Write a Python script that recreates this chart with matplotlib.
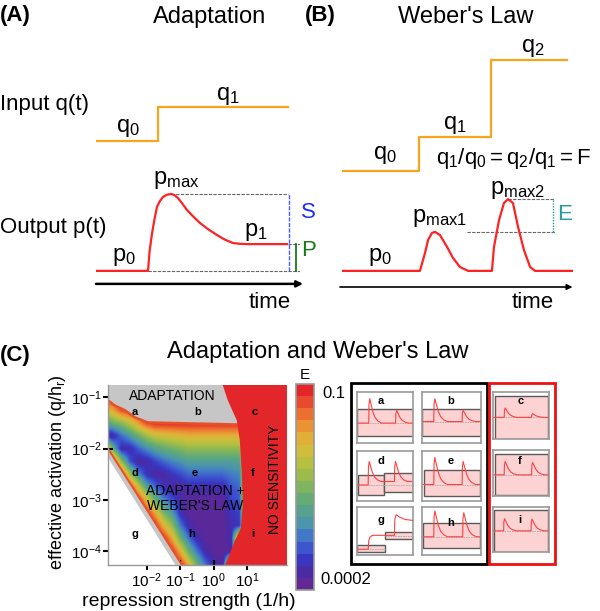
import numpy as np
import matplotlib
matplotlib.use('Agg')
import matplotlib.pyplot as plt
from matplotlib.colors import ListedColormap, LinearSegmentedColormap, Normalize
from matplotlib.patches import Polygon, Rectangle
import matplotlib.cm as cm

plt.rcParams['font.family'] = ['Liberation Sans', 'DejaVu Sans']
plt.rcParams['mathtext.fontset'] = 'custom'
plt.rcParams['mathtext.rm'] = 'Liberation Sans'
plt.rcParams['mathtext.it'] = 'Liberation Sans:italic'
plt.rcParams['mathtext.bf'] = 'Liberation Sans:bold'

# ------------------------------------------------------------------ data
# Panel A (time units, arbitrary level units)
A_in_t = [0.0, 3.04, 3.04, 9.41]
A_in_q = [6.12, 6.12, 7.42, 7.42]
A_out_t = [0.0, 2.55, 2.63, 2.75, 2.87, 2.99, 3.13, 3.28, 3.48, 3.68, 3.85, 4.02,
           4.24, 4.46, 4.78, 5.10, 5.50, 5.93, 6.32, 6.72, 7.06, 7.40, 9.36]
A_out_p = [1.12, 1.12, 1.90, 2.58, 3.12, 3.58, 3.80, 3.96, 4.05, 4.08, 4.03, 3.92,
           3.70, 3.46, 3.20, 2.96, 2.72, 2.50, 2.32, 2.19, 2.16, 2.15, 2.15]

# Panel B
B_in_t = [0.0, 3.77, 3.77, 7.30, 7.30, 11.03]
B_in_q = [4.96, 4.96, 6.27, 6.27, 9.23, 9.23]
B_out_t = [0.0, 3.82, 4.07, 4.22, 4.41, 4.56, 4.80, 5.15, 5.44, 5.78, 6.18, 7.35,
           7.45, 7.70, 7.94, 8.14, 8.38, 8.63, 8.92, 9.22, 9.46, 11.27]
B_out_p = [1.12, 1.12, 1.81, 2.31, 2.58, 2.62, 2.50, 2.04, 1.62, 1.27, 1.12, 1.12,
           2.04, 3.08, 3.73, 3.88, 3.73, 2.81, 1.92, 1.27, 1.12, 1.12]

# Panel C: log10(E) on a grid of log10(repression) x log10(activation)
grid_lx = [-3.25, -3.0, -2.75, -2.5, -2.25, -2.0, -1.75, -1.5, -1.25, -1.0,
           -0.75, -0.5, -0.25, 0.0, 0.25, 0.5, 0.75, 1.0]
grid_ly = [-0.75, -1.0, -1.25, -1.5, -1.75, -2.0, -2.25, -2.5, -2.75, -3.0,
           -3.25, -3.5, -3.75, -4.0, -4.25]
logE = [
 [-1.0]*18,
 [-1.0]*18,
 [-1.85, -1.6, -1.15] + [-1.0]*15,
 [-2.75, -2.45, -2.28, -1.96, -1.54, -1.15] + [-1.0]*12,
 [-3.65, -3.5, -3.07, -2.79, -2.47, -2.16, -1.94, -1.86, -1.81, -1.75] + [-1.7]*7 + [-1.0],
 [-1.0, -2.6, -3.5, -3.47, -3.15, -2.9, -2.7, -2.53, -2.43, -2.34] + [-2.24]*7 + [-1.0],
 [-1.0, -1.0, -2.3, -3.2, -3.58, -3.5, -3.29, -3.1, -2.96, -2.85] + [-2.73]*6 + [-2.7, -1.0],
 [-1.0]*3 + [-2.15, -2.94, -3.4, -3.55, -3.56, -3.38, -3.24] + [-3.1]*5 + [-3.0, -2.95, -1.0],
 [-1.0]*4 + [-1.9, -2.73, -3.1, -3.43, -3.55, -3.6] + [-3.48]*5 + [-3.2, -3.1, -1.0],
 [-1.0]*5 + [-1.78, -2.5, -2.96, -3.24, -3.5] + [-3.65]*5 + [-3.3, -3.2, -1.0],
 [-1.0]*6 + [-1.65, -2.39, -2.79, -3.45] + [-3.65]*5 + [-3.4, -3.3, -1.0],
 [-1.0]*7 + [-1.73, -2.24, -3.03, -3.5] + [-3.65]*4 + [-3.5, -3.35, -1.0],
 [-1.0]*8 + [-1.63, -2.47, -3.07, -3.5] + [-3.65]*3 + [-3.55, -1.0, -1.0],
 [-1.0]*9 + [-1.7, -2.53, -3.07, -3.52, -3.65, -3.65, -3.6, -1.0, -1.0],
 [-1.0]*10 + [-1.75, -2.53, -3.1, -3.52, -3.6, -1.0, -1.0, -1.0],
]
# region boundaries (log10 units)
top_lx = [-3.35, -3.16, -2.96, -2.66, -2.36, -1.97, 1.0]
top_ly = [-1.02, -1.06, -1.16, -1.25, -1.39, -1.49, -1.53]
red_lx = [0.22, 0.27, 0.42, 0.69, 0.78, 0.84, 0.87, 0.81, 0.63, 0.42, 0.33, 0.30]
red_ly = [-0.60, -0.76, -1.06, -1.45, -1.84, -2.49, -3.08, -3.55, -3.80, -4.14, -4.29, -4.45]
low_lx = [-3.30, -0.82]
low_ly = [-1.856, -4.40]
white_lx = [-3.30, -1.02]
white_ly = [-2.03, -4.40]
xticks_c = [-2, -1, 0, 1]
yticks_c = [-4, -3, -2, -1]
E_min, E_max = -3.7, -1.0
cbar_colors = ['#622896', '#4a2ba5', '#3a36c0', '#3d55cf', '#4179c8', '#4b95ad',
               '#56a28e', '#64ab76', '#7fb55e', '#9dbb4c', '#b8c03f', '#d1bc3b',
               '#e2ae38', '#eb9233', '#ec6f2f', '#e74a2c', '#e3262a']
region_letters = list('abcdefghi')
region_lx = [-2.36, -0.49, 1.22, -2.36, -0.57, 1.16, -2.36, -0.66, 1.16]
region_ly = [-1.29, -1.29, -1.29, -2.47, -2.47, -2.47, -3.67, -3.67, -3.67]

# mini panels (fractions of each small frame)
mini_base = [0.39, 0.42, 0.46, 0.32, 0.33, 0.46, 0.12, 0.38, 0.47]
mini_peak1 = [0.87, 0.87, 0.66, 0.79, 0.87, 0.75, 0.0, 0.92, 0.74]
mini_peak2 = [0.64, 0.64, 0.54, 0.79, 0.79, 0.73, 0.0, 0.88, 0.73]
mini_level = [0.39, 0.42, 0.46, 0.39, 0.33, 0.46, 0.0, 0.38, 0.47]
mini_step1 = [0.21, 0.20, 0.20, 0.20, 0.20, 0.20, 0.0, 0.20, 0.19]
mini_step2 = [0.69, 0.68, 0.69, 0.67, 0.68, 0.69, 0.0, 0.69, 0.68]
mini_bands = [[(0.0, 1.0, 0.13, 0.67)], [(0.0, 1.0, 0.13, 0.67)], [(0.03, 0.98, 0.01, 0.91)],
              [(0.02, 0.49, 0.13, 0.52), (0.49, 1.0, 0.19, 0.57)], [(0.03, 0.98, 0.11, 0.62)],
              [(0.03, 0.98, 0.02, 0.91)], [(0.0, 0.5, 0.06, 0.21), (0.5, 1.0, 0.33, 0.48)],
              [(0.02, 0.98, 0.14, 0.66)], [(0.02, 0.98, 0.01, 0.93)]]
g_t = [0.02, 0.20, 0.21, 0.235, 0.28, 0.67, 0.675, 0.70, 0.76, 0.86, 1.0]
g_v = [0.12, 0.12, 0.30, 0.38, 0.41, 0.41, 0.75, 0.84, 0.79, 0.74, 0.72]
spike_dt = [0.0, 0.004, 0.018, 0.04, 0.075, 0.115, 0.165, 0.23]
spike_fr = [0.0, 0.75, 1.0, 0.78, 0.45, 0.22, 0.08, 0.0]

# ------------------------------------------------------------------ layout
W, H = 600, 611
fig = plt.figure(figsize=(6, 6.11), dpi=100)

def box(x0, y0, x1, y1):
    return fig.add_axes([x0 / W, 1 - y1 / H, (x1 - x0) / W, (y1 - y0) / H])

def ftext(x, y, s, **kw):
    fig.text(x / W, 1 - y / H, s, **kw)

ORANGE = '#f7a51e'
RED = '#ff2222'
DASH = dict(color='#666666', lw=0.8, ls=(0, (3, 1.2)))

# ---------------- Panel A
ftext(0, 16, '(A)', fontsize=16, fontweight='bold', va='center')
ftext(210, 17, 'Adaptation', fontsize=17, ha='center', va='center')
axA = box(96, 40, 300, 300)
axA.set_xlim(0, 10); axA.set_ylim(0, 10); axA.axis('off')
axA.plot(A_in_t, A_in_q, color=ORANGE, lw=1.6, solid_joinstyle='miter')
p0, p1, pmax = A_out_p[0], A_out_p[-1], max(A_out_p)
tpk = A_out_t[int(np.argmax(A_out_p))]
axA.plot([A_out_t[1], 10.0], [p0, p0], zorder=1, **DASH)
axA.plot([tpk, 9.41], [pmax, pmax], zorder=1, **DASH)
axA.plot([9.41, 10.0], [p1, p1], zorder=1, **DASH)
axA.plot(A_out_t, A_out_p, color=RED, lw=1.6, zorder=3)
axA.plot([9.46, 9.46], [p0, pmax], color='#4b5bff', lw=1.0, ls=(0, (3, 1)))
axA.plot([9.8, 9.8], [p0, p1], color='#1a7a1a', lw=1.3)
axA.annotate('', xy=(10.15, 0.62), xytext=(0, 0.62), annotation_clip=False,
             arrowprops=dict(arrowstyle='-|>', color='k', lw=1.8, mutation_scale=9,
                             shrinkA=0, shrinkB=0))
for tx, ty, s in [(1.57, 6.62, r'$\mathrm{q}_0$'), (6.47, 7.85, r'$\mathrm{q}_1$'),
                  (1.37, 1.65, r'$\mathrm{p}_0$'), (3.92, 4.62, r'$\mathrm{p}_{\mathrm{max}}$'),
                  (7.84, 2.62, r'$\mathrm{p}_1$')]:
    axA.text(tx, ty, s, fontsize=17, ha='center', va='center')
axA.text(10.4, 3.38, 'S', fontsize=16, color='#1a2cff', ha='center', va='center', clip_on=False)
axA.text(10.4, 1.92, 'P', fontsize=16, color='#1a7a1a', ha='center', va='center', clip_on=False)
axA.text(8.53, -0.1, 'time', fontsize=16, ha='center', va='center')
ftext(0, 110, 'Input q(t)', fontsize=16, va='baseline')
ftext(0, 233, 'Output p(t)', fontsize=16, va='baseline')

# ---------------- Panel B
ftext(305, 16, '(B)', fontsize=16, fontweight='bold', va='center')
ftext(466, 17, "Weber's Law", fontsize=17, ha='center', va='center')
axB = box(342, 40, 597, 300)
axB.set_xlim(0, 12.5); axB.set_ylim(0, 10); axB.axis('off')
axB.plot(B_in_t, B_in_q, color=ORANGE, lw=1.6)
split = 11
pm1 = max(B_out_p[:split]); pm2 = max(B_out_p[split:])
axB.plot([6.13, 10.44], [pm1, pm1], zorder=1, **DASH)
axB.plot([B_out_t[split + int(np.argmax(B_out_p[split:]))], 10.4], [pm2, pm2], zorder=1, **DASH)
axB.plot([10.35, 10.35], [pm1, pm2], color='#2a9a9a', lw=1.0, ls=(0, (1, 1)))
axB.plot(B_out_t, B_out_p, color=RED, lw=1.6, zorder=3)
axB.annotate('', xy=(11.3, 0.5), xytext=(-0.1, 0.5), annotation_clip=False,
             arrowprops=dict(arrowstyle='-|>', color='k', lw=1.2, mutation_scale=8,
                             shrinkA=0, shrinkB=0))
for tx, ty, s in [(2.11, 5.58, r'$\mathrm{q}_0$'), (5.54, 6.73, r'$\mathrm{q}_1$'),
                  (9.36, 9.69, r'$\mathrm{q}_2$'), (1.86, 1.65, r'$\mathrm{p}_0$'),
                  (4.8, 3.15, r'$\mathrm{p}_{\mathrm{max1}}$'),
                  (8.58, 4.23, r'$\mathrm{p}_{\mathrm{max2}}$')]:
    axB.text(tx, ty, s, fontsize=17, ha='center', va='center')
axB.text(4.6, 5.46, r'$\mathrm{q}_1/\mathrm{q}_0 = \mathrm{q}_2/\mathrm{q}_1 = \mathrm{F}$',
         fontsize=16, ha='left', va='center', clip_on=False)
axB.text(10.93, 3.27, 'E', fontsize=16, color='#2a9a9a', ha='center', va='center')
axB.text(9.36, -0.1, 'time', fontsize=16, ha='center', va='center')

# ---------------- Panel C heatmap
ftext(0, 356, '(C)', fontsize=16, fontweight='bold', va='center')
ftext(318, 352, "Adaptation and Weber's Law", fontsize=17, ha='center', va='center')
axC = box(108, 385, 287, 565)
cmap_c = LinearSegmentedColormap.from_list('E', cbar_colors)
d = 0.25
axC.imshow(np.array(logE), cmap=cmap_c, vmin=E_min, vmax=E_max, origin='upper',
           extent=[grid_lx[0] - d / 2, grid_lx[-1] + d / 2, grid_ly[-1] - d / 2, grid_ly[0] + d / 2],
           interpolation='bilinear', interpolation_stage='data', aspect='auto', zorder=1)
GRAY = '#c6c6c6'
axC.add_patch(Polygon(list(zip(low_lx, low_ly)) + [(-3.3, -4.4)], closed=True,
                      facecolor=GRAY, edgecolor='none', zorder=2))
axC.add_patch(Polygon(list(zip(white_lx, white_ly)) + [(-3.3, -4.4)], closed=True,
                      facecolor='white', edgecolor='none', zorder=2.1))
axC.add_patch(Polygon([(-3.35, -0.5)] + list(zip(top_lx, top_ly)) + [(1.0, -0.5)], closed=True,
                      facecolor=GRAY, edgecolor='none', zorder=2.2))
axC.plot(top_lx[:-1] + [0.7], top_ly[:-1] + [-1.53], color='#e8502a', lw=1.8, zorder=2.3)
axC.plot([-3.16, -0.93], [-2.0, -4.29], color='#e8502a', lw=1.4, zorder=2.3)
axC.add_patch(Polygon(list(zip(red_lx, red_ly)) + [(2.5, -4.45), (2.5, -0.6)], closed=True,
                      facecolor='#e3262a', edgecolor='none', zorder=2.4))
axC.set_xlim(-3.16, 2.19); axC.set_ylim(-4.27, -0.76)
axC.set_xticks(xticks_c)
axC.set_xticklabels([r'$10^{%d}$' % v for v in xticks_c])
axC.set_yticks(yticks_c)
axC.set_yticklabels([r'$10^{%d}$' % v for v in yticks_c])
axC.tick_params(direction='inout', length=7, width=1.5, labelsize=11, pad=1)
for s in ['top', 'right']:
    axC.spines[s].set_visible(False)
for s in ['left', 'bottom']:
    axC.spines[s].set_color('#999999'); axC.spines[s].set_linewidth(1.0)
for s, x, y in zip(region_letters, region_lx, region_ly):
    axC.text(x, y, s, fontsize=8, fontweight='bold', ha='center', va='center', zorder=5)
axC.text(-1.25, -0.97, 'ADAPTATION', fontsize=10, ha='center', va='center', zorder=5)
axC.text(-0.55, -2.82, 'ADAPTATION +', fontsize=10, ha='center', va='center', zorder=5)
axC.text(-0.55, -3.12, "WEBER'S LAW", fontsize=10, ha='center', va='center', zorder=5)
axC.text(1.83, -2.6, 'NO SENSITIVITY', fontsize=10, rotation=90, ha='center', va='center', zorder=5)
ftext(57, 472, r'effective activation (q/h$_\mathrm{r}$)', fontsize=13, rotation=90,
      ha='center', va='center')
ftext(189, 601, 'repression strength (1/h)', fontsize=14, ha='center', va='center')

# colorbar
cax = box(296, 384, 314, 590)
cb = fig.colorbar(cm.ScalarMappable(norm=Normalize(E_min, E_max), cmap=ListedColormap(cbar_colors)),
                  cax=cax)
cb.set_ticks([])
cb.outline.set_edgecolor('#999999'); cb.outline.set_linewidth(1.2)
ftext(305, 375, 'E', fontsize=11, ha='center', va='center')
ftext(322, 393, '0.1', fontsize=12, ha='left', va='center')
ftext(320, 580, '0.0002', fontsize=12, ha='left', va='center')

# mini panels
frames = [(357, 392, 413, 443), (422, 392, 481, 443), (493, 392, 549, 439),
          (357, 451, 413, 501), (422, 451, 481, 501), (493, 450, 549, 496),
          (357, 507, 413, 555), (422, 507, 481, 555), (493, 507, 549, 552)]
label_xy = [(0.42, 0.82), (0.49, 0.82), (0.49, 0.80), (0.42, 0.80), (0.49, 0.80),
            (0.47, 0.76), (0.42, 0.72), (0.49, 0.66), (0.48, 0.72)]

def trace(base, pk1, pk2, lvl, t1, t2):
    ts, vs = [0.02], [base]
    for t0, pk, start in ((t1, pk1, base), (t2, pk2, lvl)):
        for i, (dt, fr) in enumerate(zip(spike_dt, spike_fr)):
            ts.append(t0 + dt)
            ref = start if i <= 2 else lvl
            vs.append(ref + fr * (pk - ref))
    ts.append(0.98); vs.append(lvl)
    return ts, vs

for k, fr in enumerate(frames):
    ax = box(*fr)
    ax.set_xlim(0, 1); ax.set_ylim(0, 1)
    ax.set_xticks([]); ax.set_yticks([])
    for s in ax.spines.values():
        s.set_color('#9a9a9a'); s.set_linewidth(1.2)
    for (x0, x1, y0, y1) in mini_bands[k]:
        ax.add_patch(Rectangle((x0, y0), x1 - x0, y1 - y0, facecolor='#fdd2d2',
                               edgecolor='#5a5a5a', lw=1.0, zorder=1))
        if k == 6:
            ax.plot([x0, x1], [(y0 + y1) / 2] * 2, color='#aaaaaa', lw=0.6, ls=(0, (2, 1)), zorder=2)
    if k == 6:
        ax.plot(g_t, g_v, color='#ff4040', lw=0.8, zorder=3)
    else:
        bx0 = min(b[0] for b in mini_bands[k]); bx1 = max(b[1] for b in mini_bands[k])
        ax.plot([bx0, bx1], [mini_base[k]] * 2, color='#aaaaaa', lw=0.6, ls=(0, (2, 1)), zorder=2)
        ts, vs = trace(mini_base[k], mini_peak1[k], mini_peak2[k], mini_level[k],
                       mini_step1[k], mini_step2[k])
        ax.plot(ts, vs, color='#ff4040', lw=0.8, zorder=3)
    ax.text(label_xy[k][0], label_xy[k][1], region_letters[k], fontsize=8, fontweight='bold',
            ha='center', va='center', transform=ax.transAxes, zorder=4)

fig.add_artist(Rectangle((351 / W, 1 - 564 / H), (487 - 351) / W, (564 - 383) / H,
                         transform=fig.transFigure, fill=False, edgecolor='k', lw=2))
fig.add_artist(Rectangle((489 / W, 1 - 564 / H), (555 - 489) / W, (564 - 383) / H,
                         transform=fig.transFigure, fill=False, edgecolor='#ee1111', lw=2))

fig.savefig('out.png', dpi=100)
